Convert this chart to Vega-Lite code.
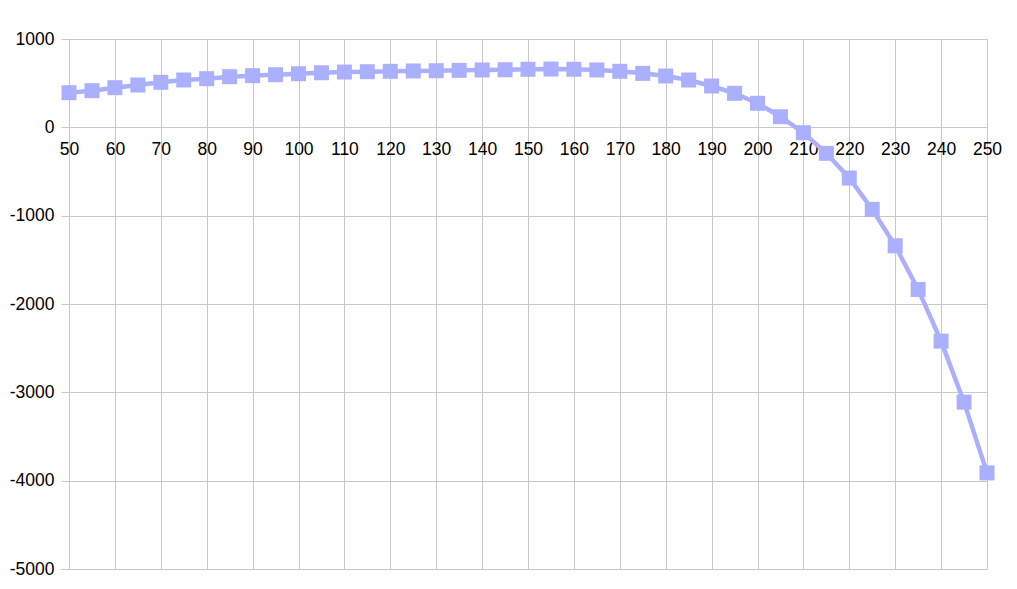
{
  "$schema": "https://vega.github.io/schema/vega-lite/v6.json",
  "autosize": "none",
  "padding": {"left": 69, "top": 39, "right": 30, "bottom": 20},
  "width": 918,
  "height": 530,
  "background": "white",
  "config": {
    "view": {"stroke": null},
    "axis": {"labelFont": "Liberation Sans", "labelFontSize": 17.5, "labelColor": "#000000", "gridColor": "#c8c8c8", "gridWidth": 1, "domain": false}
  },
  "data": {"values": [
    {"x": 50, "y": 392}, {"x": 55, "y": 415}, {"x": 60, "y": 449}, {"x": 65, "y": 479},
    {"x": 70, "y": 510}, {"x": 75, "y": 536}, {"x": 80, "y": 551}, {"x": 85, "y": 573},
    {"x": 90, "y": 585}, {"x": 95, "y": 596}, {"x": 100, "y": 607}, {"x": 105, "y": 618},
    {"x": 110, "y": 626}, {"x": 115, "y": 630}, {"x": 120, "y": 634}, {"x": 125, "y": 638},
    {"x": 130, "y": 641}, {"x": 135, "y": 645}, {"x": 140, "y": 649}, {"x": 145, "y": 652},
    {"x": 150, "y": 657}, {"x": 155, "y": 660}, {"x": 160, "y": 657}, {"x": 165, "y": 649},
    {"x": 170, "y": 634}, {"x": 175, "y": 611}, {"x": 180, "y": 581}, {"x": 185, "y": 536},
    {"x": 190, "y": 468}, {"x": 195, "y": 385}, {"x": 200, "y": 272}, {"x": 205, "y": 120},
    {"x": 210, "y": -61}, {"x": 215, "y": -294}, {"x": 220, "y": -574}, {"x": 225, "y": -929},
    {"x": 230, "y": -1341}, {"x": 235, "y": -1835}, {"x": 240, "y": -2420}, {"x": 245, "y": -3111},
    {"x": 250, "y": -3912}
  ]},
  "encoding": {
    "x": {"field": "x", "type": "quantitative", "scale": {"domain": [50, 250], "nice": false, "zero": false},
      "axis": {"title": null, "values": [50,60,70,80,90,100,110,120,130,140,150,160,170,180,190,200,210,220,230,240,250], "ticks": false, "labelPadding": 13, "offset": {"expr": "scale('y', 0) - height"}, "labelFlush": false, "labelOverlap": false, "labelExpr": "'' + datum.value"}},
    "y": {"field": "y", "type": "quantitative", "scale": {"domain": [-5000, 1000], "nice": false},
      "axis": {"title": null, "values": [-5000,-4000,-3000,-2000,-1000,0,1000], "tickSize": 8, "tickColor": "#c8c8c8", "labelPadding": 7, "labelFlush": false, "labelExpr": "'' + datum.value"}}
  },
  "layer": [
    {"mark": {"type": "line", "color": "#aab0fe", "strokeWidth": 4.5}},
    {"mark": {"type": "point", "shape": "square", "filled": true, "size": 225, "color": "#aab0fe", "opacity": 1}}
  ]
}
